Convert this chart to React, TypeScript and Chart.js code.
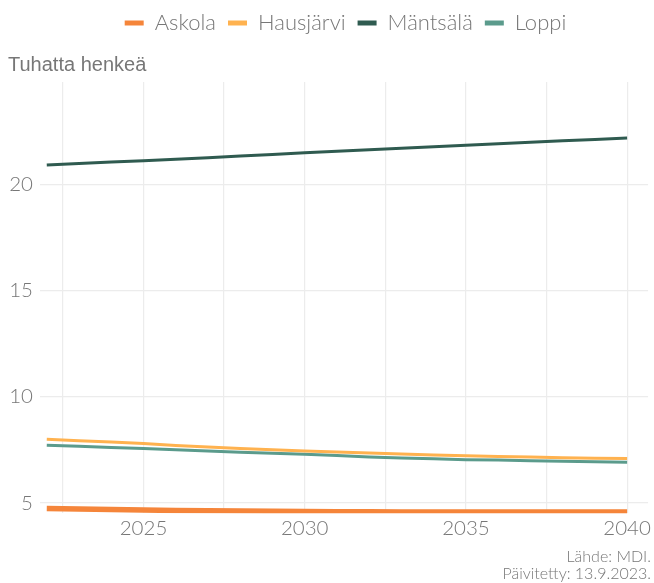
import React, { useEffect, useRef } from "react";
import { Chart, registerables } from "chart.js";

Chart.register(...registerables);

const years = [2022, 2023, 2024, 2025, 2026, 2027, 2028, 2029, 2030, 2031, 2032, 2033, 2034, 2035, 2036, 2037, 2038, 2039, 2040];
const askola = [4.74, 4.72, 4.69, 4.67, 4.65, 4.64, 4.62, 4.61, 4.6, 4.59, 4.59, 4.58, 4.58, 4.58, 4.58, 4.58, 4.58, 4.58, 4.58];
const hausjarvi = [8.0, 7.93, 7.87, 7.8, 7.71, 7.63, 7.56, 7.5, 7.45, 7.4, 7.35, 7.3, 7.26, 7.22, 7.19, 7.16, 7.13, 7.11, 7.09];
const mantsala = [20.9, 20.97, 21.04, 21.1, 21.18, 21.25, 21.33, 21.4, 21.48, 21.55, 21.62, 21.69, 21.76, 21.83, 21.9, 21.97, 22.04, 22.11, 22.17];
const loppi = [7.72, 7.67, 7.61, 7.56, 7.5, 7.45, 7.39, 7.34, 7.29, 7.23, 7.17, 7.12, 7.08, 7.04, 7.02, 6.99, 6.96, 6.94, 6.92];

const seriesNames = ["Askola", "Hausjärvi", "Mäntsälä", "Loppi"];
const seriesColors = ["#f5853a", "#ffb24f", "#2f5b50", "#5b9b8c"];
const seriesWidths = [5.5, 3, 3, 3];

const yTicks = [5, 10, 15, 20];
const xGridTicks = [2022.5, 2025, 2027.5, 2030, 2032.5, 2035, 2037.5, 2040];
const xLabelTicks = [2025, 2030, 2035, 2040];
const yTitle = "Tuhatta henkeä";
const footer = ["Lähde: MDI.", "Päivitetty: 13.9.2023."];

const GREY = "#777777";
const GRID = "#ececec";

export default function App() {
  const ref = useRef<HTMLCanvasElement | null>(null);

  useEffect(() => {
    if (!ref.current) return;
    const values = [askola, hausjarvi, mantsala, loppi];
    const datasets = seriesNames.map((name, i) => ({
      label: name,
      data: years.map((yr, j) => ({ x: yr, y: values[i][j] })),
      borderColor: seriesColors[i],
      backgroundColor: seriesColors[i],
      borderWidth: seriesWidths[i],
      pointRadius: 0,
      pointHoverRadius: 0,
      tension: 0,
      fill: false,
      clip: 0,
    }));

    const shiftLegend = {
      id: "shiftLegend",
      beforeDraw(chart: any) {
        if (chart.legend) chart.legend.left = chart.chartArea.left;
      },
    };

    const chart = new Chart(ref.current, {
      type: "line",
      data: { datasets },
      plugins: [shiftLegend],
      options: {
        animation: false,
        responsive: false,
        maintainAspectRatio: false,
        layout: { padding: { left: 8, right: 3, top: 0, bottom: 0 } },
        plugins: {
          legend: {
            display: true,
            position: "top",
            weight: 3000,
            labels: {
              boxWidth: 19,
              boxHeight: 5,
              padding: 12,
              color: GREY,
              font: { family: "Lato", size: 22, weight: "300" },
              generateLabels: (ch: any) =>
                ch.data.datasets.map((ds: any, i: number) => ({
                  text: ds.label,
                  fillStyle: ds.borderColor,
                  strokeStyle: ds.borderColor,
                  lineWidth: 0,
                  hidden: false,
                  datasetIndex: i,
                  fontColor: GREY,
                })),
            },
          },
          title: {
            display: true,
            text: yTitle,
            align: "start",
            position: "top",
            color: GREY,
            font: { family: "Liberation Sans", size: 20, weight: "normal" },
            padding: { top: 9, bottom: 5 },
          },
          subtitle: {
            display: true,
            text: footer,
            align: "end",
            position: "bottom",
            color: GREY,
            font: { family: "Lato", size: 16, lineHeight: 1.1, weight: "300" },
            padding: { top: 4, bottom: 0 },
          },
          tooltip: { enabled: false },
        },
        scales: {
          x: {
            type: "linear",
            min: 2021.79,
            max: 2040.65,
            afterBuildTicks: (scale: any) => {
              scale.ticks = xGridTicks.map((v) => ({ value: v }));
            },
            ticks: {
              autoSkip: false,
              maxRotation: 0,
              padding: 3,
              color: GREY,
              font: { family: "Lato", size: 20.5, weight: "300" },
              callback: (v: any) => (xLabelTicks.includes(Number(v)) ? String(v) : ""),
            },
            grid: { color: GRID, lineWidth: 1.2, drawTicks: false },
            border: { display: false },
          },
          y: {
            type: "linear",
            min: 4.52,
            max: 24.81,
            afterBuildTicks: (scale: any) => {
              scale.ticks = yTicks.map((v) => ({ value: v }));
            },
            afterFit: (scale: any) => {
              scale.width = 32;
            },
            ticks: {
              padding: 7,
              color: GREY,
              font: { family: "Lato", size: 20.5, weight: "300" },
              callback: (v: any) => String(v),
            },
            grid: { color: GRID, lineWidth: 1.2, drawTicks: false },
            border: { display: false },
          },
        },
      },
    } as any);
    return () => chart.destroy();
  }, []);

  return (
    <div style={{ position: "fixed", left: 0, top: 0, width: 654, height: 583, background: "#fff" }}>
      <canvas ref={ref} width={654} height={583} style={{ width: 654, height: 583 }} />
    </div>
  );
}
